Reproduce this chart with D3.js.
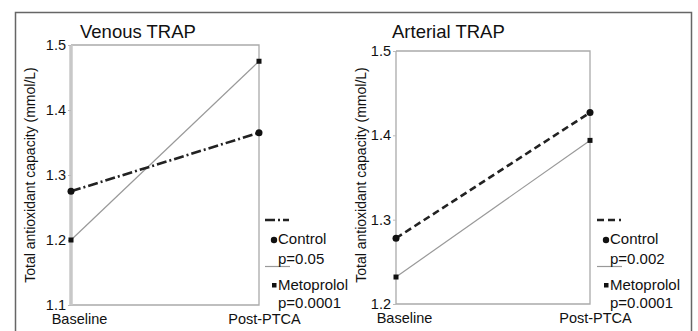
<!DOCTYPE html>
<html>
<head>
<meta charset="utf-8">
<script src="https://d3js.org/d3.v7.min.js"></script>
<style>
  body { margin: 0; background: #fff; }
  svg text { font-family: "Liberation Sans Narrow", "Arial Narrow", "Liberation Sans", sans-serif; fill: #111; }
</style>
</head>
<body>
<svg></svg>
<script>
  const width = 698;
  const height = 331;

  // data
  const categories = ["Baseline", "Post-PTCA"];
  const venousControl = [1.275, 1.365];
  const venousMetoprolol = [1.2, 1.475];
  const arterialControl = [1.278, 1.427];
  const arterialMetoprolol = [1.232, 1.394];
  const venousTicks = [1.1, 1.2, 1.3, 1.4, 1.5];
  const arterialTicks = [1.2, 1.3, 1.4, 1.5];
  const venousP = ["p=0.05", "p=0.0001"];
  const arterialP = ["p=0.002", "p=0.0001"];
  const seriesNames = ["Control", "Metoprolol"];
  const yTitle = "Total antioxidant capacity (mmol/L)";

  const svg = d3.select("svg").attr("width", width).attr("height", height);

  // outer frame (bottom is cut off)
  svg.append("path")
    .attr("d", "M15.5,331 V12.5 H691.5 V331")
    .attr("fill", "none")
    .attr("stroke", "#666")
    .attr("stroke-width", 1.5);

  drawPanel({
    title: "Venous TRAP", titleX: 80,
    left: 71, right: 259, top: 45, bottom: 305,
    domain: [1.1, 1.5], ticks: venousTicks,
    control: venousControl, metoprolol: venousMetoprolol,
    pvals: venousP, dash: "10,3,2,3", thickAxis: true,
    yTitleX: 35, legendX: 265
  });

  drawPanel({
    title: "Arterial TRAP", titleX: 392,
    left: 396, right: 590, top: 51, bottom: 304,
    domain: [1.2, 1.5], ticks: arterialTicks,
    control: arterialControl, metoprolol: arterialMetoprolol,
    pvals: arterialP, dash: "7,4", thickAxis: false,
    yTitleX: 366, legendX: 597
  });

  function drawPanel(c) {
    const g = svg.append("g");
    const x = d3.scalePoint().domain(categories).range([c.left, c.right]);
    const y = d3.scaleLinear().domain(c.domain).range([c.bottom, c.top]);

    g.append("text")
      .attr("x", c.titleX).attr("y", 38)
      .attr("font-size", 18.5)
      .text(c.title);

    // frame of the plot area
    g.append("path")
      .attr("d", `M${c.left},${c.top} H${c.right} V${c.bottom} H${c.left}`)
      .attr("fill", "none").attr("stroke", "#aaa").attr("stroke-width", 1.3);
    g.append("line")
      .attr("x1", c.left).attr("x2", c.left)
      .attr("y1", c.top).attr("y2", c.bottom)
      .attr("stroke", c.thickAxis ? "#c8c8c8" : "#aaa")
      .attr("stroke-width", c.thickAxis ? 3.5 : 1.3);

    // y axis
    const yAxis = d3.axisLeft(y).tickValues(c.ticks).tickSize(3).tickPadding(2)
      .tickFormat(d3.format(".1f"));
    const ya = g.append("g").attr("transform", `translate(${c.left},0)`).call(yAxis);
    ya.select(".domain").remove();
    ya.selectAll(".tick line").attr("stroke", "#bbb");
    ya.selectAll(".tick text").attr("font-size", 14.5).attr("fill", "#111")
      .attr("font-family", '"Liberation Sans Narrow", "Arial Narrow", sans-serif');

    // x axis labels
    const xAxis = d3.axisBottom(x).tickSize(0).tickPadding(9);
    const xa = g.append("g").attr("transform", `translate(0,${c.bottom})`).call(xAxis);
    xa.select(".domain").remove();
    xa.selectAll(".tick text").attr("font-size", 14.5).attr("fill", "#111")
      .attr("font-family", '"Liberation Sans Narrow", "Arial Narrow", sans-serif')
      .attr("dx", (d, i) => i === 0 ? 8 : 5);

    g.append("text")
      .attr("transform", `translate(${c.yTitleX},175) rotate(-90)`)
      .attr("text-anchor", "middle")
      .attr("font-size", 14)
      .text(yTitle);

    const line = d3.line().x((d, i) => x(categories[i])).y(d => y(d));

    g.append("path").datum(c.metoprolol)
      .attr("d", line).attr("fill", "none")
      .attr("stroke", "#999").attr("stroke-width", 1.2);
    g.append("path").datum(c.control)
      .attr("d", line).attr("fill", "none")
      .attr("stroke", "#222").attr("stroke-width", 2.6)
      .attr("stroke-dasharray", c.dash);

    g.selectAll(".ctl").data(c.control).enter().append("circle")
      .attr("cx", (d, i) => x(categories[i])).attr("cy", d => y(d))
      .attr("r", 3.5).attr("fill", "#111");
    g.selectAll(".met").data(c.metoprolol).enter().append("rect")
      .attr("x", (d, i) => x(categories[i]) - 2.5).attr("y", d => y(d) - 2.5)
      .attr("width", 5).attr("height", 5).attr("fill", "#111");

    // legend
    const lx = c.legendX;
    g.append("line")
      .attr("x1", lx).attr("x2", lx + 24).attr("y1", 220).attr("y2", 220)
      .attr("stroke", "#222").attr("stroke-width", 2.6)
      .attr("stroke-dasharray", c.dash);
    g.append("circle").attr("cx", lx + 9).attr("cy", 240).attr("r", 3.2).attr("fill", "#111");
    g.append("text").attr("x", lx + 13).attr("y", 244).attr("font-size", 15).text(seriesNames[0]);
    g.append("line")
      .attr("x1", lx).attr("x2", lx + 25).attr("y1", 266.5).attr("y2", 266.5)
      .attr("stroke", "#999").attr("stroke-width", 1.2);
    g.append("text").attr("x", lx + 13).attr("y", 264).attr("font-size", 15).text(c.pvals[0]);
    g.append("rect").attr("x", lx + 7).attr("y", 283).attr("width", 4.5).attr("height", 4.5).attr("fill", "#111");
    g.append("text").attr("x", lx + 13).attr("y", 290).attr("font-size", 15).text(seriesNames[1]);
    g.append("text").attr("x", lx + 13).attr("y", 308).attr("font-size", 15).text(c.pvals[1]);
  }
</script>
</body>
</html>
